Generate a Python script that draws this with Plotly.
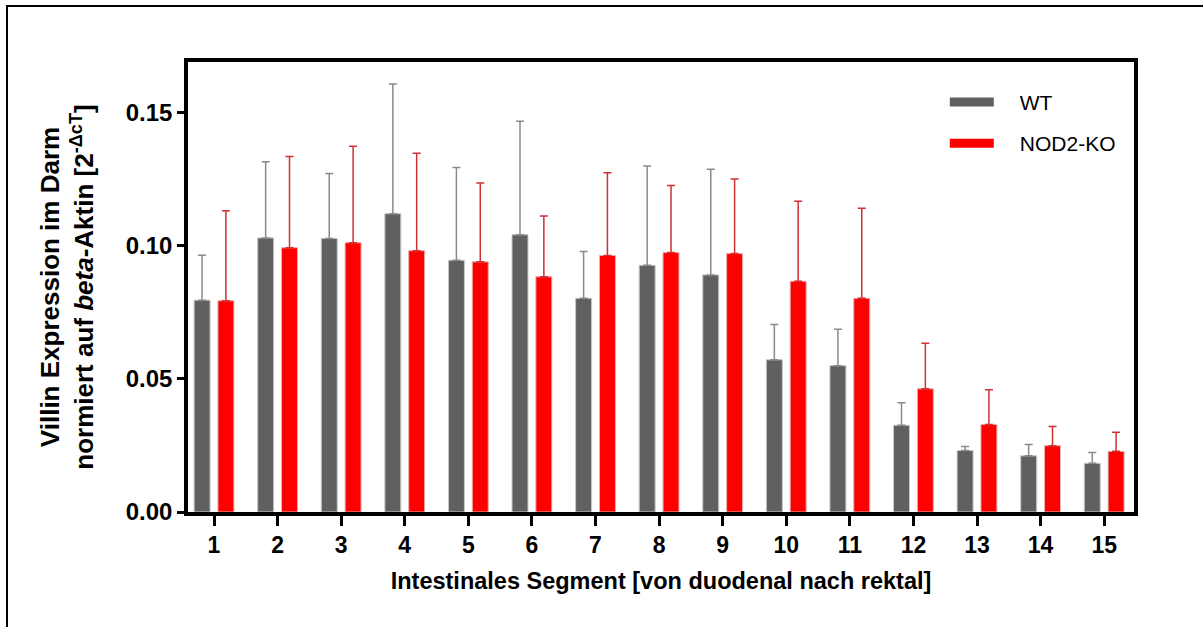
import plotly.graph_objects as go

segments = list(range(1, 16))
tick_labels = [str(s) for s in segments]

wt_mean = [0.0796, 0.1030, 0.1028, 0.1121, 0.0946, 0.1042, 0.0803, 0.0927,
           0.0891, 0.0572, 0.0550, 0.0326, 0.0231, 0.0211, 0.0183]
wt_top = [0.0965, 0.1316, 0.1272, 0.1608, 0.1295, 0.1468, 0.0979, 0.1300,
          0.1288, 0.0705, 0.0687, 0.0411, 0.0246, 0.0254, 0.0224]
ko_mean = [0.0794, 0.0993, 0.1012, 0.0982, 0.0940, 0.0884, 0.0964, 0.0975,
           0.0971, 0.0867, 0.0803, 0.0463, 0.0329, 0.0249, 0.0228]
ko_top = [0.1132, 0.1336, 0.1374, 0.1348, 0.1236, 0.1112, 0.1275, 0.1227,
          0.1251, 0.1168, 0.1141, 0.0634, 0.0459, 0.0321, 0.0300]

wt_err = [t - m for t, m in zip(wt_top, wt_mean)]
ko_err = [t - m for t, m in zip(ko_top, ko_mean)]

FONT = "Liberation Sans Narrow, Arial Narrow, Liberation Sans, Arial, sans-serif"
FONT_WIDE = "Liberation Sans, Arial, sans-serif"
GREY = "#606060"
RED = "#ff0000"

fig = go.Figure()
fig.add_trace(go.Bar(
    x=segments, y=wt_mean, name="WT", showlegend=False,
    marker=dict(color=GREY, line=dict(color="#c8c8c8", width=1)),
    error_y=dict(type="data", symmetric=False, array=wt_err,
                 arrayminus=[0] * len(wt_err), color="#8a8a8a",
                 thickness=1.5, width=4),
))
fig.add_trace(go.Bar(
    x=segments, y=ko_mean, name="NOD2-KO", showlegend=False,
    marker=dict(color=RED, line=dict(color="#e8b0b0", width=1)),
    error_y=dict(type="data", symmetric=False, array=ko_err,
                 arrayminus=[0] * len(ko_err), color="#d03030",
                 thickness=1.5, width=4),
))
# legend entries (wide swatches)
fig.add_trace(go.Scatter(x=[None], y=[None], mode="lines", name="\u2002\u2002WT",
                         legendgroup="a", line=dict(color=GREY, width=9)))
fig.add_trace(go.Scatter(x=[None], y=[None], mode="lines", name="\u2002\u2002NOD2-KO",
                         legendgroup="b", line=dict(color=RED, width=9)))

fig.update_layout(
    width=1203, height=627,
    margin=dict(l=188, r=69, t=62, b=115),
    paper_bgcolor="white", plot_bgcolor="white",
    barmode="group", bargap=0.25, bargroupgap=0.33,
    font=dict(family=FONT, color="black"),
    showlegend=True,
    legend=dict(x=0.800, y=0.956, xanchor="left", yanchor="top",
                bgcolor="rgba(0,0,0,0)", itemwidth=44,
                font=dict(family=FONT, size=21, color="black"),
                tracegroupgap=11),
    shapes=[dict(type="rect", xref="paper", yref="paper",
                 x0=(7 - 188) / 946, x1=1.3, y0=-0.5, y1=(512 - 6) / 450,
                 line=dict(color="black", width=2), fillcolor="rgba(0,0,0,0)",
                 layer="below")],
)

fig.update_xaxes(
    range=[0.591, 15.469], tickmode="array", tickvals=segments, ticktext=tick_labels,
    showline=True, linecolor="black", linewidth=3.5, mirror=True,
    ticks="outside", ticklen=10, tickwidth=3, tickcolor="black",
    showgrid=False, zeroline=False,
    tickfont=dict(family=FONT, size=23, color="black", weight="bold"),
    title=dict(text="Intestinales Segment [von duodenal nach rektal]",
               font=dict(family=FONT, size=23.5, color="black", weight="bold"),
               standoff=16),
)
fig.update_yaxes(
    range=[0, 0.1691], tickmode="array", tickvals=[0, 0.05, 0.10, 0.15],
    ticktext=["0.00", "0.05", "0.10", "0.15"],
    showline=True, linecolor="black", linewidth=3.5, mirror=True,
    ticks="outside", ticklen=7, tickwidth=3, tickcolor="black",
    showgrid=False, zeroline=False,
    tickfont=dict(family=FONT, size=24, color="black", weight="bold"),
    title=dict(text="Villin Expression im Darm<br>normiert auf <i>beta</i>-Aktin [2<sup>-ΔcT</sup>]",
               font=dict(family=FONT_WIDE, size=26, color="black", weight="bold"),
               standoff=26),
)

fig.write_html("out.html")
